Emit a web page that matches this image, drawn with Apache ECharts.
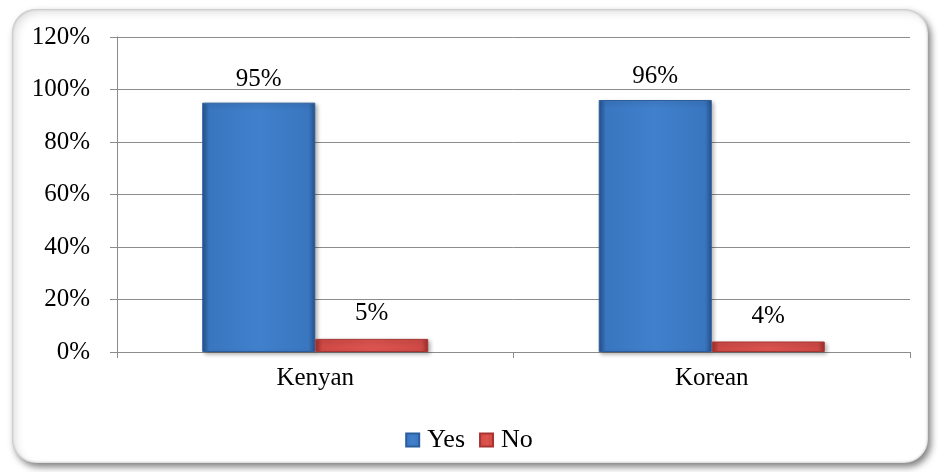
<!DOCTYPE html>
<html>
<head>
<meta charset="utf-8">
<script src="https://cdn.jsdelivr.net/npm/echarts@6/dist/echarts.min.js"></script>
<style>
  html, body { margin: 0; padding: 0; background: #ffffff; }
  #frame {
    position: absolute; left: 12px; top: 9px; width: 916px; height: 454px;
    border-radius: 24px; background: #ffffff;
    box-shadow: 3px 4px 7px rgba(0,0,0,0.5), inset 0 0 3px rgba(0,0,0,0.3), inset 4px 4px 8px rgba(0,0,0,0.12);
  }
  #chart { position: absolute; left: 0; top: 0; width: 938px; height: 472px; }
</style>
</head>
<body>
<div id="frame"></div>
<div id="chart"></div>
<script>
// Survey responses by group
const categories = ['Kenyan', 'Korean'];
const yesValues = [95, 96];
const noValues = [5, 4];
const yTicks = [0, 20, 40, 60, 80, 100, 120];

const font = 'Liberation Serif';
const fs = 25;

function bevel(light, mid, dark) {
  return new echarts.graphic.LinearGradient(0, 0, 1, 0, [
    { offset: 0, color: dark },
    { offset: 0.06, color: mid },
    { offset: 0.5, color: light },
    { offset: 0.94, color: mid },
    { offset: 1, color: dark }
  ]);
}

const chart = echarts.init(document.getElementById('chart'), null, { renderer: 'canvas' });
chart.setOption({
  backgroundColor: 'transparent',
  animation: false,
  textStyle: { fontFamily: font, color: '#000' },
  grid: { left: 117, right: 28, top: 37, bottom: 120 },
  legend: {
    top: 422,
    left: 'center',
    itemWidth: 13,
    itemHeight: 13,
    itemGap: 14,
    icon: 'rect',
    textStyle: { fontFamily: font, fontSize: 26, color: '#000', padding: [0, 0, 0, 3] },
    data: ['Yes', 'No']
  },
  xAxis: {
    type: 'category',
    data: categories,
    axisLine: { lineStyle: { color: '#8c8c8c', width: 1 } },
    axisTick: { show: true, length: 6, lineStyle: { color: '#8c8c8c' } },
    axisLabel: { fontFamily: font, fontSize: fs, color: '#000', margin: 14 }
  },
  yAxis: {
    type: 'value',
    min: 0,
    max: 120,
    interval: 20,
    axisLine: { show: true, lineStyle: { color: '#8c8c8c', width: 1 } },
    axisTick: { show: true, length: 7, lineStyle: { color: '#8c8c8c' } },
    splitLine: { lineStyle: { color: '#8c8c8c', width: 1 } },
    axisLabel: {
      fontFamily: font, fontSize: fs, color: '#000', margin: 27,
      formatter: v => yTicks.includes(v) ? v + '%' : ''
    }
  },
  series: [
    {
      name: 'Yes',
      type: 'bar',
      data: yesValues,
      barGap: '0%',
      barCategoryGap: '43%',
      itemStyle: {
        color: bevel('#4080cc', '#3a76c0', '#24528c'),
        borderColor: '#2c5d9c',
        borderWidth: 1,
        shadowColor: 'rgba(0,0,0,0.3)',
        shadowBlur: 4,
        shadowOffsetX: 2,
        shadowOffsetY: 2
      },
      label: {
        show: true, position: 'top', distance: 11,
        fontFamily: font, fontSize: fs, color: '#000',
        formatter: p => p.value + '%'
      }
    },
    {
      name: 'No',
      type: 'bar',
      data: noValues,
      itemStyle: {
        color: bevel('#dc5450', '#cf4a46', '#9c2f2c'),
        borderColor: '#a83532',
        borderWidth: 1,
        shadowColor: 'rgba(0,0,0,0.3)',
        shadowBlur: 4,
        shadowOffsetX: 2,
        shadowOffsetY: 2
      },
      label: {
        show: true, position: 'top', distance: 13,
        fontFamily: font, fontSize: fs, color: '#000',
        formatter: p => p.value + '%'
      }
    }
  ]
});
</script>
</body>
</html>
